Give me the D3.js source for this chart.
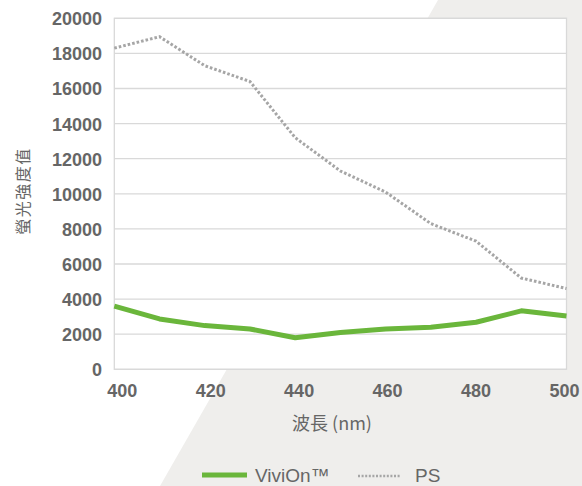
<!DOCTYPE html>
<html>
<head>
<meta charset="utf-8">
<script src="https://cdn.jsdelivr.net/npm/d3@7"></script>
<style>
  html, body { margin: 0; padding: 0; background: #fff; }
  svg { display: block; }
</style>
</head>
<body>
<svg id="chart" width="582" height="486"></svg>
<script>
const wavelengths = [400, 410, 420, 430, 440, 450, 460, 470, 480, 490, 500];
const vivionValues = [3600, 2870, 2490, 2300, 1800, 2100, 2300, 2400, 2680, 3330, 3040];
const psValues = [18300, 18950, 17300, 16400, 13200, 11300, 10100, 8300, 7300, 5200, 4600];
const yTicks = [0, 2000, 4000, 6000, 8000, 10000, 12000, 14000, 16000, 18000, 20000];
const xTicks = [400, 420, 440, 460, 480, 500];
const seriesNames = ["ViviOn™", "PS"];
const yTitle = "螢光強度值";
const xTitle = "波長 (nm)";

const svg = d3.select("#chart");
const W = 582, H = 486;
const plot = { left: 114.3, right: 566.5, top: 18.3, bottom: 369.3 };

// background shape
svg.append("rect").attr("width", W).attr("height", H).attr("fill", "#ffffff");
svg.append("path")
  .attr("d", `M438,0 L${W},0 L${W},${H} L160,${H} Z`)
  .attr("fill", "#efeeec");

const x = d3.scaleLinear().domain([400, 500]).range([plot.left, plot.right]);
const xLabel = d3.scaleLinear().domain([400, 500]).range([121.7, 564]);
const y = d3.scaleLinear().domain([0, 20000]).range([plot.bottom, plot.top]);

// plot area
svg.append("rect")
  .attr("x", plot.left).attr("y", plot.top)
  .attr("width", plot.right - plot.left).attr("height", plot.bottom - plot.top)
  .attr("fill", "#ffffff").attr("stroke", "#d9d9d9").attr("stroke-width", 1.3);

// gridlines
svg.append("g").selectAll("line").data(yTicks).join("line")
  .attr("x1", plot.left).attr("x2", plot.right)
  .attr("y1", d => y(d)).attr("y2", d => y(d))
  .attr("stroke", "#d9d9d9").attr("stroke-width", 1.3);

const tickFont = "'Liberation Sans', Arial, sans-serif";

// y axis labels
const yAxis = d3.axisLeft(y).tickValues(yTicks).tickSize(0).tickPadding(0).tickFormat(d3.format("d"));
const gy = svg.append("g").attr("transform", `translate(102,0)`).call(yAxis);
gy.select(".domain").remove();
gy.selectAll("text")
  .attr("font-family", tickFont).attr("font-size", 18).attr("font-weight", "bold")
  .attr("fill", "#666666").attr("dy", "0.36em");

// x axis labels
const xAxis = d3.axisBottom(xLabel).tickValues(xTicks).tickSize(0).tickPadding(0).tickFormat(d3.format("d"));
const gx = svg.append("g").attr("transform", `translate(0,384)`).call(xAxis);
gx.select(".domain").remove();
gx.selectAll("text")
  .attr("font-family", tickFont).attr("font-size", 18).attr("font-weight", "bold")
  .attr("fill", "#666666").attr("dy", "0.71em");

// lines
const line = d3.line().x((d, i) => x(wavelengths[i])).y(d => y(d));
svg.append("path").datum(psValues)
  .attr("d", line).attr("fill", "none")
  .attr("stroke", "#a6a6a6").attr("stroke-width", 3)
  .attr("stroke-dasharray", "2.6 2");
svg.append("path").datum(vivionValues)
  .attr("d", line).attr("fill", "none")
  .attr("stroke", "#6ab63b").attr("stroke-width", 5)
  .attr("stroke-linejoin", "round");

// axis titles
svg.append("text")
  .attr("transform", `translate(23,191) rotate(-90)`)
  .attr("text-anchor", "middle").attr("dy", "0.36em")
  .attr("letter-spacing", 1.5)
  .attr("font-family", "'Noto Sans CJK TC', sans-serif").attr("font-size", 16)
  .attr("fill", "#666666").text(yTitle);

svg.append("text")
  .attr("x", 332).attr("y", 430)
  .attr("text-anchor", "middle")
  .attr("font-family", "'Noto Sans CJK TC', 'Liberation Sans', sans-serif").attr("font-size", 18)
  .attr("fill", "#666666").text(xTitle);

// legend
const legend = svg.append("g");
legend.append("line").attr("x1", 202).attr("x2", 247).attr("y1", 475).attr("y2", 475)
  .attr("stroke", "#6ab63b").attr("stroke-width", 5);
legend.append("text").attr("x", 255).attr("y", 482)
  .attr("font-family", tickFont).attr("font-size", 19).attr("fill", "#666666").text(seriesNames[0]);
legend.append("line").attr("x1", 358).attr("x2", 400).attr("y1", 476).attr("y2", 476)
  .attr("stroke", "#a6a6a6").attr("stroke-width", 2.5).attr("stroke-dasharray", "2 1.6");
legend.append("text").attr("x", 415).attr("y", 482)
  .attr("font-family", tickFont).attr("font-size", 19).attr("fill", "#666666").text(seriesNames[1]);
</script>
</body>
</html>
